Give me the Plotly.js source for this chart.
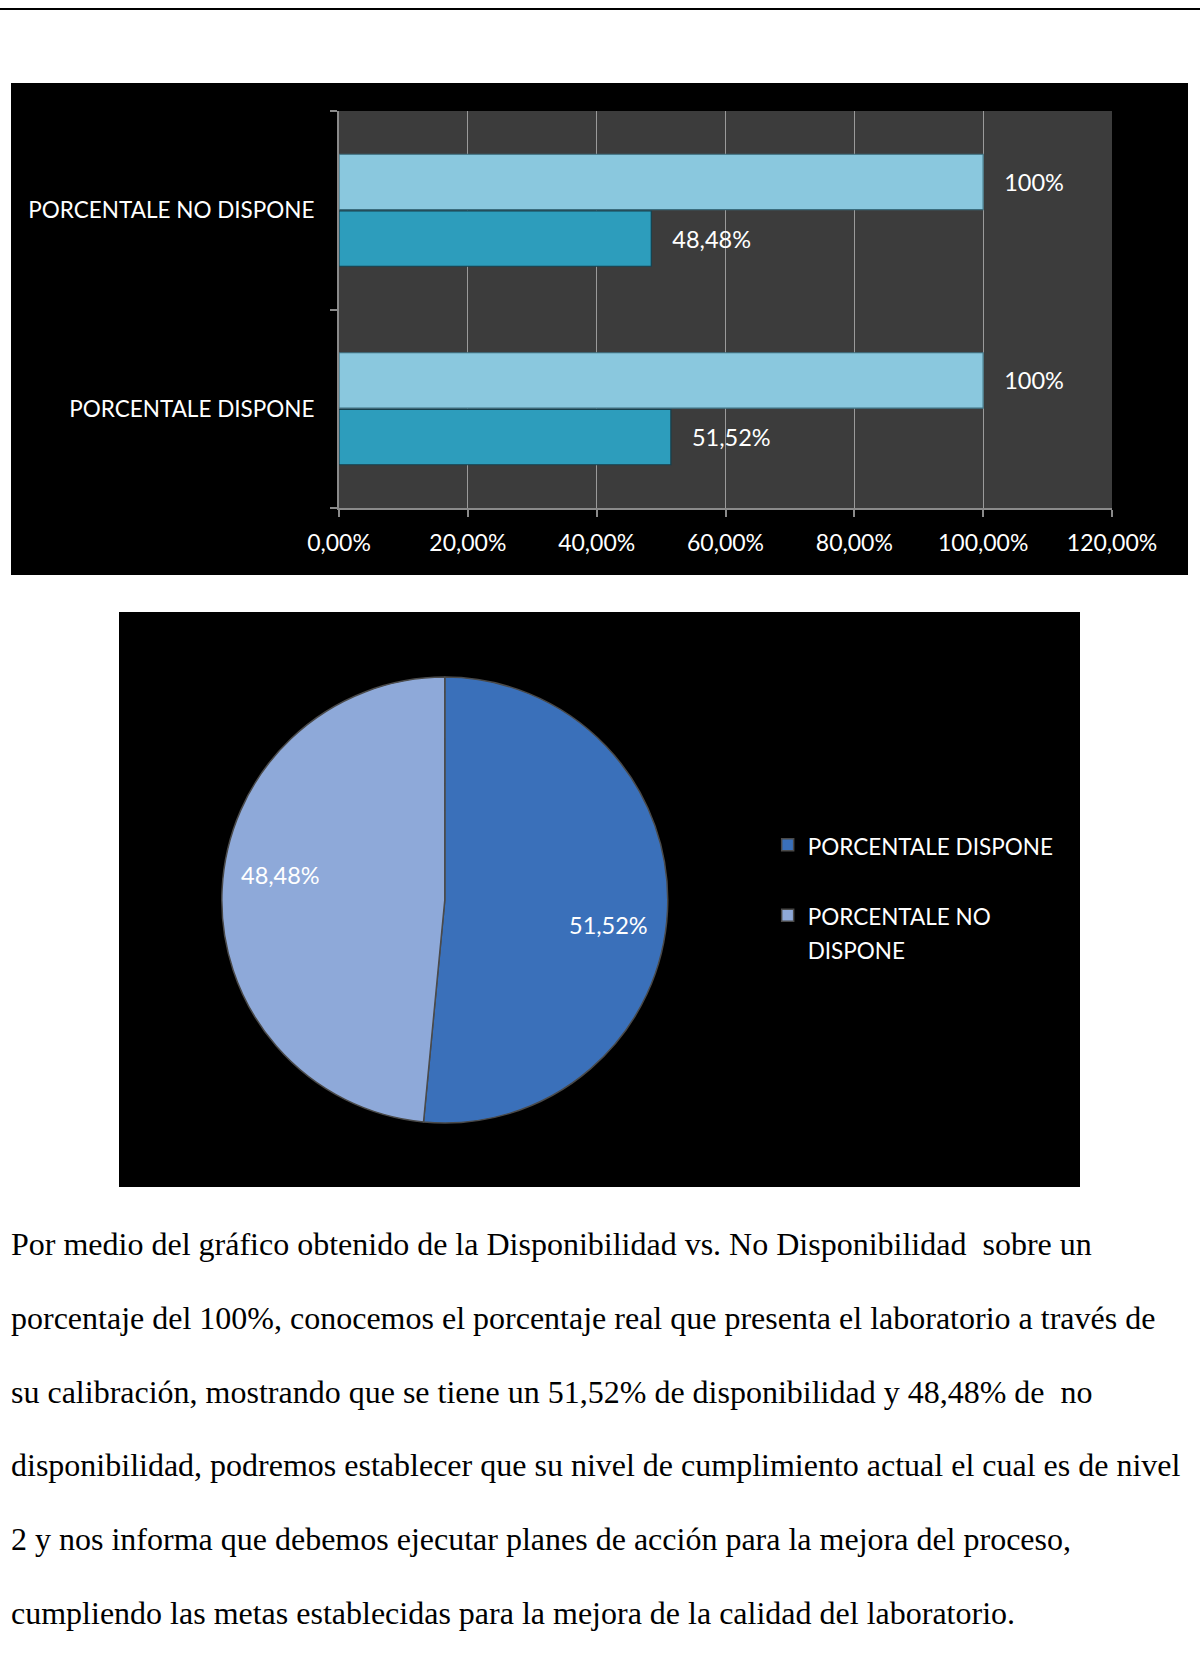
<!DOCTYPE html>
<html>
<head>
<meta charset="utf-8">
<script src="https://cdn.plot.ly/plotly-3.0.1.min.js"></script>
<style>
  html, body { margin:0; padding:0; background:#fff; width:1200px; height:1661px; overflow:hidden; }
  #rule { position:absolute; left:0; top:8px; width:1200px; height:2px; background:#000; }
  #bar { position:absolute; left:11px; top:83px; width:1177px; height:492px; }
  #pie { position:absolute; left:119px; top:612px; width:961px; height:575px; }
  #para { position:absolute; left:11px; top:1208px; width:1189px; font-family:"Liberation Serif","Times New Roman",serif;
          font-size:32px; line-height:73.8px; color:#000; white-space:nowrap; }
</style>
</head>
<body>
<div id="rule"></div>
<div id="bar"></div>
<div id="pie"></div>
<div id="para"></div>
<script>
// ---- data ----
const categories = ["PORCENTALE DISPONE", "PORCENTALE NO DISPONE"];
const porcentaje = [51.52, 48.48];
const total = [100, 100];
const xTicks = [0, 20, 40, 60, 80, 100, 120];
const pieLabels = ["PORCENTALE DISPONE", "PORCENTALE NO DISPONE"];
const pieValues = [51.52, 48.48];
const paragraphLines = [
  "Por medio del gráfico obtenido de la Disponibilidad vs. No Disponibilidad&nbsp; sobre un",
  "porcentaje del 100%, conocemos el porcentaje real que presenta el laboratorio a través de",
  "su calibración, mostrando que se tiene un 51,52% de disponibilidad y 48,48% de&nbsp; no",
  "disponibilidad, podremos establecer que su nivel de cumplimiento actual el cual es de nivel",
  "2 y nos informa que debemos ejecutar planes de acción para la mejora del proceso,",
  "cumpliendo las metas establecidas para la mejora de la calidad del laboratorio."
];

const font = "Lato, 'Open Sans', sans-serif";
const fmt = (v, d) => v.toFixed(d).replace(".", ",") + "%";

// ---- bar chart ----
const barTraces = [
  {
    type: "bar", orientation: "h", y: categories, x: porcentaje,
    marker: { color: "#2d9dbc", line: { color: "#16404d", width: 1.2 } },
    texttemplate: "&nbsp;&nbsp;&nbsp;%{x:.2f}%", textposition: "outside",
    textfont: { color: "#ffffff", size: 23.5, family: font },
    cliponaxis: false, hoverinfo: "x"
  },
  {
    type: "bar", orientation: "h", y: categories, x: total,
    marker: { color: "#8ac8de", line: { color: "#3c6e7e", width: 1.2 } },
    texttemplate: "&nbsp;&nbsp;&nbsp;%{x:.0f}%", textposition: "outside",
    textfont: { color: "#ffffff", size: 23.5, family: font },
    cliponaxis: false, hoverinfo: "x"
  }
];
const barLayout = {
  width: 1177, height: 492,
  paper_bgcolor: "#000000", plot_bgcolor: "#3c3c3c",
  margin: { l: 328, r: 76, t: 28, b: 67 },
  barmode: "group", bargap: 0.43, bargroupgap: 0.02,
  showlegend: false,
  separators: ",.",
  font: { family: font, color: "#ffffff", size: 22 },
  xaxis: {
    range: [0, 120], tickmode: "array", tickvals: xTicks, ticktext: xTicks.map(v => fmt(v, 2)),
    showgrid: true, gridcolor: "#9a9a9a", gridwidth: 1,
    showline: true, linecolor: "#8a8a8a", linewidth: 2,
    ticks: "outside", ticklen: 7, tickcolor: "#8a8a8a", tickwidth: 2,
    zeroline: false, ticklabelstandoff: 6,
    tickfont: { color: "#ffffff", size: 23, family: font }
  },
  yaxis: {
    type: "category", range: [-0.5, 1.5],
    showline: true, linecolor: "#8a8a8a", linewidth: 2,
    ticks: "outside", ticklen: 7, tickcolor: "#8a8a8a", tickwidth: 2,
    tickson: "boundaries", showgrid: false, ticklabelstandoff: 18,
    tickfont: { color: "#ffffff", size: 22.5, family: font }
  }
};
Plotly.newPlot("bar", barTraces, barLayout, { staticPlot: true });

// ---- pie chart ----
const pieW = 961, pieH = 575;
const dom = { x: [0.107, 0.571], y: [0.111, 0.887] };
const legendSpan = s => "<span style='font-size:22.5px'>" + s + "</span>";
const legendLabels = [
  legendSpan(pieLabels[0]) + "<br> ",
  legendSpan("PORCENTALE NO") + "<br>" + legendSpan("DISPONE")
];
const pieTrace = {
  type: "pie", labels: legendLabels, values: pieValues,
  sort: false, direction: "clockwise", rotation: 0,
  marker: { colors: ["#3a70ba", "#8ea9d9"], line: { color: "#4a4a4a", width: 1.5 } },
  textinfo: "none",
  domain: dom,
  hoverinfo: "value"
};
// data labels placed at each slice's mid-angle (computed from the values)
const cx = (dom.x[0] + dom.x[1]) / 2, cy = (dom.y[0] + dom.y[1]) / 2;
const rPx = Math.min((dom.x[1] - dom.x[0]) * pieW, (dom.y[1] - dom.y[0]) * pieH) / 2;
const sum = pieValues.reduce((a, b) => a + b, 0);
let acc = 0;
const pieAnnotations = pieValues.map(v => {
  const mid = (acc + v / 2) / sum * 2 * Math.PI + 6 * Math.PI / 180;
  acc += v;
  return {
    xref: "paper", yref: "paper", xanchor: "center", yanchor: "middle",
    x: cx + 0.745 * rPx * Math.sin(mid) / pieW,
    y: cy + 0.745 * rPx * Math.cos(mid) / pieH,
    text: fmt(v, 2), showarrow: false,
    font: { color: "#ffffff", size: 23.5, family: font }
  };
});
const pieLayout = {
  width: pieW, height: pieH,
  paper_bgcolor: "#000000",
  margin: { l: 0, r: 0, t: 0, b: 0 },
  separators: ",.",
  font: { family: font, color: "#ffffff", size: 21 },
  showlegend: true,
  annotations: pieAnnotations,
  legend: {
    x: 0.675, y: 0.636, xanchor: "left", yanchor: "top",
    bgcolor: "rgba(0,0,0,0)", valign: "top",
    font: { color: "#ffffff", size: 26, family: font },
    itemwidth: 30
  }
};
Plotly.newPlot("pie", [pieTrace], pieLayout, { staticPlot: true });

// ---- paragraph ----
document.getElementById("para").innerHTML = paragraphLines.map(l => "<div>" + l + "</div>").join("");
</script>
</body>
</html>
